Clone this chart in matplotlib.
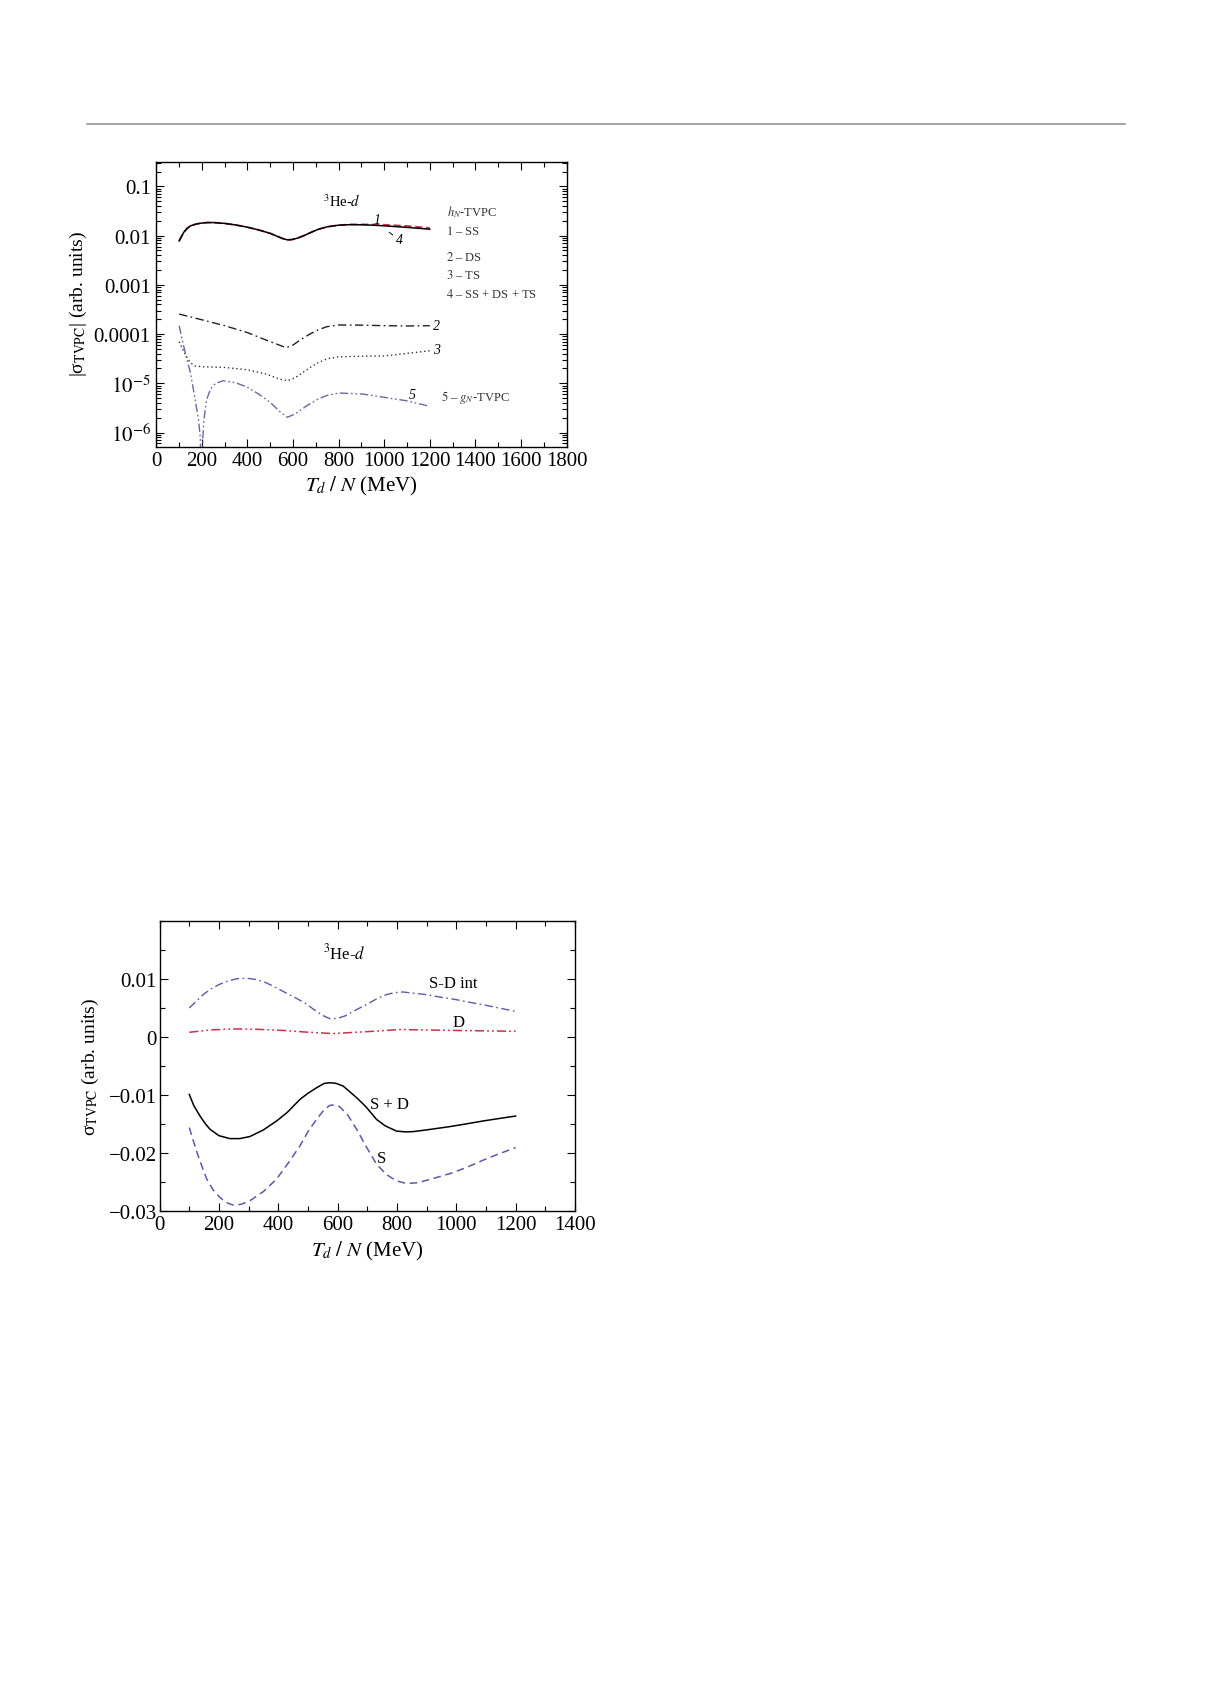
import matplotlib
matplotlib.use("Agg")
import matplotlib.pyplot as plt
from matplotlib.ticker import MultipleLocator, FixedLocator, FixedFormatter, LogLocator, NullFormatter
from matplotlib.lines import Line2D

plt.rcParams['font.family'] = ['Liberation Serif', 'DejaVu Serif']
plt.rcParams['mathtext.fontset'] = 'stix'

# ---------------- top panel data (|sigma_TVPC|, log scale) ----------------
x_ss = [100, 110, 120, 135, 150, 175, 200, 225, 250, 300, 350, 400, 450, 500, 530, 555, 575, 595, 620, 650, 680,
        710, 750, 800, 850, 900, 950, 1000, 1100, 1200]
ss = [0.0078, 0.0095, 0.0116, 0.0140, 0.0158, 0.0172, 0.0180, 0.0184, 0.0184, 0.0177, 0.0164, 0.0148, 0.0130,
      0.0111, 0.0097, 0.0087, 0.0082, 0.0083, 0.0089, 0.0101, 0.0117, 0.0134, 0.0151, 0.0163, 0.0168, 0.0169,
      0.0168, 0.0166, 0.0157, 0.0143]
total = [0.0078, 0.0095, 0.0116, 0.0140, 0.0158, 0.0172, 0.0180, 0.0184, 0.0184, 0.0177, 0.0164, 0.0148, 0.0130,
         0.0111, 0.0097, 0.0087, 0.0082, 0.0083, 0.0089, 0.0101, 0.0117, 0.0134, 0.0151, 0.0163, 0.0167, 0.0166,
         0.0163, 0.0158, 0.0147, 0.0135]

x_ds = [100, 200, 300, 400, 480, 530, 560, 575, 600, 630, 670, 710, 750, 800, 900, 1000, 1100, 1200]
ds = [2.55e-4, 1.95e-4, 1.48e-4, 1.07e-4, 7.6e-5, 6.2e-5, 5.5e-5, 5.4e-5, 6.0e-5, 7.5e-5, 9.8e-5, 1.22e-4,
      1.42e-4, 1.53e-4, 1.52e-4, 1.48e-4, 1.46e-4, 1.48e-4]

x_ts = [100, 115, 130, 150, 170, 200, 300, 400, 480, 540, 575, 610, 650, 700, 750, 800, 900, 1000, 1100, 1200]
ts = [7.0e-5, 5.0e-5, 3.6e-5, 2.6e-5, 2.25e-5, 2.17e-5, 2.1e-5, 1.88e-5, 1.55e-5, 1.22e-5, 1.13e-5, 1.3e-5,
      1.75e-5, 2.5e-5, 3.15e-5, 3.45e-5, 3.55e-5, 3.6e-5, 4.05e-5, 4.58e-5]

x_gn = [100, 117, 134, 150, 170, 185, 193, 199, 204, 210, 220, 237, 260, 294, 350, 400, 450, 500, 540, 575, 610,
        660, 710, 750, 800, 900, 1000, 1100, 1200]
gn = [1.48e-4, 6.5e-5, 3.1e-5, 1.6e-5, 4.8e-6, 1.8e-6, 8.0e-7, 1.0e-8, 8.0e-7, 2.0e-6, 4.5e-6, 7.6e-6, 1.0e-5,
      1.13e-5, 1.02e-5, 8.3e-6, 6.0e-6, 4.1e-6, 2.7e-6, 2.04e-6, 2.4e-6, 3.5e-6, 4.8e-6, 5.7e-6, 6.34e-6, 6.1e-6,
      5.2e-6, 4.4e-6, 3.4e-6]

top_yticks = [1e-6, 1e-5, 1e-4, 1e-3, 1e-2, 1e-1]
top_ylabels = [r'$10^{-6}$', r'$10^{-5}$', '0.0001', '0.001', '0.01', '0.1']
top_xticks = [0, 200, 400, 600, 800, 1000, 1200, 1400, 1600, 1800]

# ---------------- bottom panel data (sigma_TVPC, linear) ----------------
x_sd = [100, 125, 150, 175, 200, 230, 260, 293, 320, 349, 380, 417, 455, 490, 520, 551, 575, 600, 625, 660, 697,
        730, 760, 790, 820, 860, 899, 950, 1000, 1050, 1101, 1150, 1200]
sd_int = [0.00497, 0.0062, 0.0074, 0.0083, 0.0090, 0.0096, 0.0100, 0.0101, 0.0099, 0.00954, 0.0088, 0.0078,
          0.0068, 0.00583, 0.0047, 0.00365, 0.0031, 0.0032, 0.0036, 0.0046, 0.00554, 0.0065, 0.0072, 0.0076,
          0.00772, 0.0075, 0.00726, 0.0068, 0.0064, 0.0059, 0.00542, 0.0049, 0.00439]

x_d = [100, 175, 248, 330, 417, 500, 585, 700, 810, 1000, 1200]
d_only = [0.00079, 0.0012, 0.00137, 0.0013, 0.0011, 0.0008, 0.00057, 0.0009, 0.00126, 0.0011, 0.00096]

x_spd = [100, 115, 136, 155, 170, 200, 237, 270, 304, 350, 394, 430, 473, 500, 529, 555, 574, 595, 619, 640, 664,
         695, 731, 760, 798, 830, 854, 900, 978, 1030, 1090, 1150, 1200]
s_plus_d = [-0.0099, -0.0118, -0.0136, -0.0150, -0.0159, -0.0170, -0.0175, -0.0175, -0.01715, -0.0160, -0.01448,
            -0.0130, -0.01076, -0.0097, -0.00875, -0.0080, -0.00789, -0.0080, -0.00847, -0.0094, -0.01046,
            -0.0120, -0.01419, -0.0153, -0.0162, -0.01635, -0.0163, -0.0160, -0.01544, -0.0150, -0.01447,
            -0.0140, -0.01362]

x_s = [100, 115, 130, 145, 159, 180, 203, 225, 248, 275, 304, 350, 394, 435, 473, 500, 529, 555, 574, 590, 607,
       635, 664, 700, 731, 765, 798, 832, 870, 922, 980, 1034, 1100, 1150, 1200]
s_only = [-0.0156, -0.0181, -0.02048, -0.0226, -0.02448, -0.0263, -0.02762, -0.0285, -0.02894, -0.0288, -0.0282,
          -0.0266, -0.02448, -0.0216, -0.01876, -0.0163, -0.01419, -0.0125, -0.01178, -0.0117, -0.01201, -0.0135,
          -0.0159, -0.0192, -0.0219, -0.0237, -0.02477, -0.02522, -0.0251, -0.02436, -0.0235, -0.02247, -0.0210,
          -0.0200, -0.01904]

bot_yticks = [-0.03, -0.02, -0.01, 0, 0.01]
bot_ylabels = ['\u22120.03', '\u22120.02', '\u22120.01', '0', '0.01']
bot_xticks = [0, 200, 400, 600, 800, 1000, 1200, 1400]

fig = plt.figure(figsize=(12.11, 16.83), dpi=100)

# horizontal rule at top of page
fig.add_artist(Line2D([87 / 1211, 1125 / 1211], [1 - 125 / 1683, 1 - 125 / 1683], color='#8a8a8a', lw=1.1))

tick_fs = 15
xlab_fs = 15
ylab_fs = 14
small_fs = 9


def style_axes(ax, ypad):
    ax.tick_params(which='both', direction='in', top=True, right=True, labelsize=tick_fs, width=0.8)
    ax.tick_params(which='major', length=6)
    ax.tick_params(which='minor', length=3.5)
    ax.tick_params(axis='x', which='both', pad=3)
    ax.tick_params(axis='y', which='both', pad=ypad)
    for sp in ax.spines.values():
        sp.set_linewidth(1.0)


# ---------------- top panel ----------------
ax1 = fig.add_axes([0.1291, 0.7338, 0.3387, 0.1696])
ax1.set_yscale('log')
ax1.plot(x_ss, ss, color='#d0304a', ls=(0, (4, 2)), lw=1.3)
ax1.plot(x_ss, total, color='black', ls='-', lw=1.1)
ax1.plot(x_ds, ds, color='#222222', ls=(0, (6, 2.5, 1.2, 2.5)), lw=1.0)
ax1.plot(x_ts, ts, color='#333333', ls=(0, (1, 2)), lw=1.0)
ax1.plot(x_gn, gn, color='#6a6aa0', ls=(0, (6, 2, 1.2, 2, 1.2, 2)), lw=1.0)
ax1.set_xlim(0, 1800)
ax1.set_ylim(5.08e-7, 0.319)
ax1.xaxis.set_major_locator(FixedLocator(top_xticks))
ax1.xaxis.set_minor_locator(MultipleLocator(100))
ax1.yaxis.set_major_locator(FixedLocator(top_yticks))
ax1.yaxis.set_major_formatter(FixedFormatter(top_ylabels))
ax1.yaxis.set_minor_locator(LogLocator(base=10, subs=[2, 3, 4, 5, 6, 7, 8, 9], numticks=20))
ax1.yaxis.set_minor_formatter(NullFormatter())
style_axes(ax1, 4)
ax1.set_xlabel(r'$T_d\ /\ N$ (MeV)', fontsize=xlab_fs)
ax1.xaxis.set_label_coords(0.5, -0.095)
ax1.set_ylabel('|σ$_{\\rm TVPC}$| (arb. units)', fontsize=ylab_fs)
ax1.yaxis.set_label_coords(-0.163, 0.504)

ax1.text(813, 0.051, r'$^3$He-$d$', fontsize=10.5, ha='center', va='center')
ax1.text(967, 0.0217, '1', fontsize=10, style='italic', ha='center', va='center')
ax1.annotate('4', xy=(1022, 0.0117), xytext=(1065, 0.0082), fontsize=10, style='italic',
             ha='center', va='center',
             arrowprops=dict(arrowstyle='-', lw=0.7, color='black', shrinkA=4, shrinkB=0))
ax1.text(1228, 1.52e-4, '2', fontsize=10, style='italic', ha='center', va='center')
ax1.text(1230, 4.8e-5, '3', fontsize=10, style='italic', ha='center', va='center')
ax1.text(1121, 5.8e-6, '5', fontsize=10, style='italic', ha='center', va='center')

lx = 1270
ax1.text(lx + 4, 0.031, r'$h_N$-TVPC', fontsize=small_fs, ha='left', va='center', color='#333333')
ax1.text(lx, 0.0125, r'$\mathit{1}$ – SS', fontsize=small_fs, ha='left', va='center', color='#333333')
ax1.text(lx, 0.0037, r'$\mathit{2}$ – DS', fontsize=small_fs, ha='left', va='center', color='#333333')
ax1.text(lx, 0.00166, r'$\mathit{3}$ – TS', fontsize=small_fs, ha='left', va='center', color='#333333')
ax1.text(lx, 0.00068, r'$\mathit{4}$ – SS + DS + TS', fontsize=small_fs, ha='left', va='center', color='#333333')
ax1.text(lx - 22, 5.4e-6, r'$\mathit{5}$ – $g_N$-TVPC', fontsize=small_fs, ha='left', va='center', color='#333333')

# ---------------- bottom panel ----------------
ax2 = fig.add_axes([0.1318, 0.2797, 0.3430, 0.1727])
ax2.plot(x_sd, sd_int, color='#5a5aa8', ls=(0, (6, 2.5, 1.2, 2.5)), lw=1.0)
ax2.plot(x_d, d_only, color='#d0304a', ls=(0, (6, 2, 1.2, 2, 1.2, 2)), lw=1.1)
ax2.plot(x_spd, s_plus_d, color='black', ls='-', lw=1.1)
ax2.plot(x_s, s_only, color='#5a5aa8', ls=(0, (5, 3)), lw=1.1)
ax2.set_xlim(0, 1400)
ax2.set_ylim(-0.03, 0.02)
ax2.xaxis.set_major_locator(FixedLocator(bot_xticks))
ax2.xaxis.set_minor_locator(MultipleLocator(100))
ax2.yaxis.set_major_locator(FixedLocator(bot_yticks))
ax2.yaxis.set_major_formatter(FixedFormatter(bot_ylabels))
ax2.yaxis.set_minor_locator(MultipleLocator(0.005))
style_axes(ax2, 2)
ax2.set_xlabel(r'$T_d\ /\ N$ (MeV)', fontsize=xlab_fs)
ax2.xaxis.set_label_coords(0.5, -0.095)
ax2.set_ylabel('σ$_{\\rm TVPC}$ (arb. units)', fontsize=ylab_fs)
ax2.yaxis.set_label_coords(-0.14, 0.5)

ax2.text(621, 0.0145, r'$^3$He-$d$', fontsize=12, ha='center', va='center')
ax2.text(989, 0.0092, 'S-D int', fontsize=12, ha='center', va='center')
ax2.text(1006, 0.0025, 'D', fontsize=12, ha='center', va='center')
ax2.text(773, -0.0116, 'S + D', fontsize=12, ha='center', va='center')
ax2.text(748, -0.0209, 'S', fontsize=12, ha='center', va='center')

fig.savefig('out.png', dpi=100)
